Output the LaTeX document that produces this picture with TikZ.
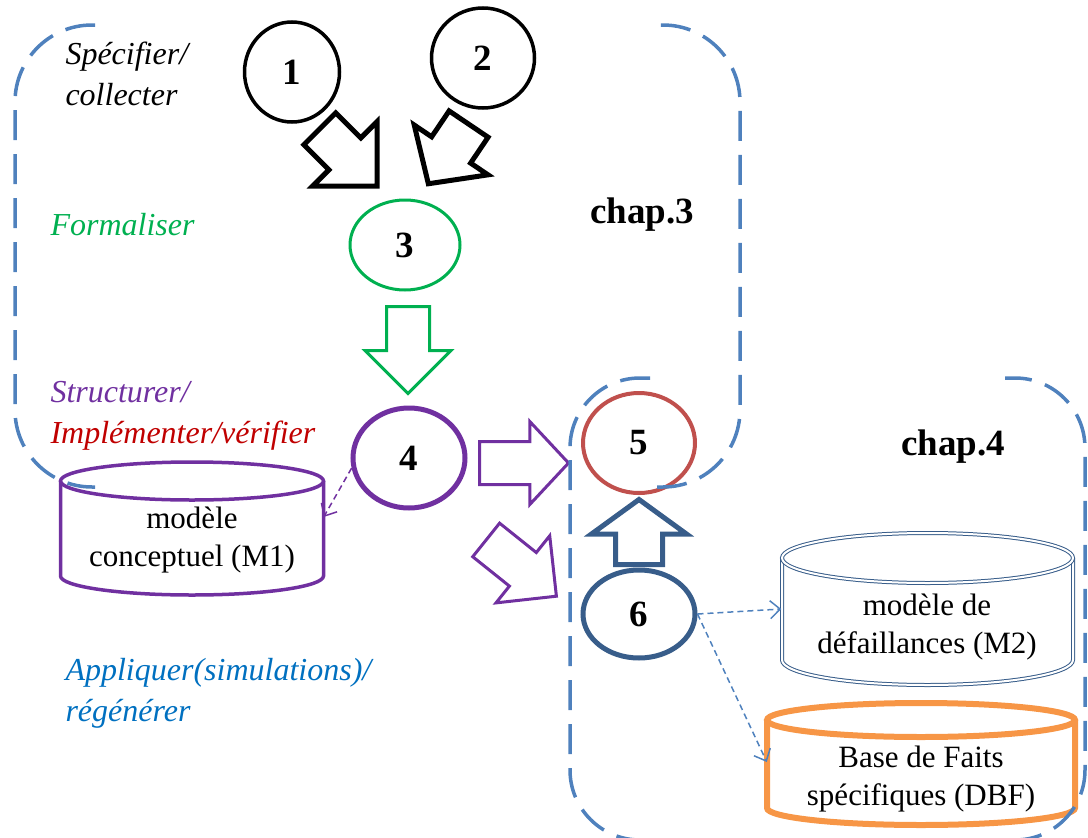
\documentclass[tikz,border=0pt]{standalone}
\usepackage{fontspec}
\setmainfont{Liberation Serif}
\usetikzlibrary{arrows.meta,shapes.geometric,shapes.arrows}
\definecolor{chapblue}{HTML}{4F81BD}
\definecolor{formgreen}{HTML}{00B050}
\definecolor{structpurple}{HTML}{7030A0}
\definecolor{implred}{HTML}{C00000}
\definecolor{simred}{HTML}{C0504D}
\definecolor{regblue}{HTML}{385D8A}
\definecolor{applblue}{HTML}{0070C0}
\definecolor{dbforange}{HTML}{F79646}
\tikzset{
  stage/.style={ellipse, draw, fill=white, line width=3.5pt, inner sep=0pt,
                minimum width=112pt, minimum height=100pt,
                font=\fontsize{37}{40}\selectfont\bfseries},
  bigarrow/.style={single arrow, draw, fill=white, line width=3pt, inner xsep=0pt,
                   inner ysep=20pt, anchor=tail, single arrow tip angle=90},
  storetext/.style={align=center, inner sep=0pt, font=\fontsize{31}{38}\selectfont},
  phase/.style={anchor=west, align=left, font=\fontsize{32}{41}\selectfont\itshape},
  chapter/.style={chapblue, line width=3.5pt, dash pattern=on 30pt off 14pt},
  chaptitle/.style={font=\fontsize{37}{40}\selectfont\bfseries},
  link/.style={-{Straight Barb[length=10pt,width=18pt]}, line width=1.5pt,
               dash pattern=on 6pt off 4pt},
}
% drum: [style]{x centre}{top y}{x radius}{bottom y}{y radius}
\newcommand\drum[6][]{%
  \draw[#1] ({#2-#4},#3) -- ({#2-#4},#5) arc[start angle=180, end angle=360, x radius=#4pt, y radius=#6pt] -- ({#2+#4},#3);
  \draw[#1] (#2,#3) ellipse[x radius=#4pt, y radius=#6pt];}
\begin{document}
\begin{tikzpicture}[x=1pt, y=-1pt]
  \useasboundingbox (0,0) rectangle (1088,838);

  % phase labels
  \node[phase] (spec) at (62,74) {Spécifier/\\collecter};
  \node[phase, text=formgreen] (form) at (47,225) {Formaliser};
  \node[phase] (struct) at (47,416) {\textcolor{structpurple}{Structurer/}\\\textcolor{implred}{Implémenter/vérifier}};
  \node[phase, text=applblue] (appl) at (62,693) {Appliquer(simulations)/\\régénérer};

  % data stores
  \drum[structpurple, line width=3.5pt]{192}{481}{131.5}{576}{19}
  \node[storetext, minimum width=263pt] (m1) at (192,540) {modèle\\conceptuel (M1)};
  \drum[regblue, line width=1pt, double=white, double distance=2pt]{927.5}{558}{145.5}{660}{25}
  \node[storetext, minimum width=291pt] (m2) at (927,627) {modèle de\\défaillances (M2)};
  \drum[dbforange, line width=6pt]{921}{720}{154}{808}{17}
  \node[storetext, minimum width=308pt] (dbf) at (921,779) {Base de Faits\\spécifiques (DBF)};

  % stages
  \node[stage, minimum width=95pt] (c1) at (292,72) {1};
  \node[stage, minimum width=103pt] (c2) at (483,58) {2};
  \node[stage, draw=formgreen, line width=3pt, minimum width=110pt, minimum height=90pt] (c3) at (405,245) {3};
  \node[stage, draw=structpurple, line width=5pt] (c4) at (409,458) {4};
  \node[stage, draw=simred, line width=4pt] (c5) at (639,443) {5};
  \node[stage, draw=regblue, line width=5pt, minimum height=88pt] (c6) at (639,614) {6};

  % block arrows
  \node[bigarrow, line width=5pt, rotate=-45, minimum height=81pt, single arrow head extend=23pt] (a13) at (318,127) {};
  \node[bigarrow, line width=5pt, rotate=-124, minimum height=72pt, inner ysep=21pt, single arrow head extend=21pt, single arrow tip angle=95] (a23) at (470,122) {};
  \node[bigarrow, draw=formgreen, rotate=-90, minimum height=87pt, single arrow head extend=21.5pt] (a34) at (408,305) {};
  \node[bigarrow, draw=structpurple, minimum height=89pt, single arrow head extend=20pt, single arrow tip angle=94] (a45) at (478,463) {};
  \node[bigarrow, draw=structpurple, rotate=-38.7, minimum height=90pt, single arrow head extend=21.5pt] (a4x) at (485,539) {};
  \node[bigarrow, draw=regblue, line width=5pt, rotate=90, minimum height=65pt, inner ysep=21pt, single arrow head extend=24pt, single arrow tip angle=108] (a65) at (639,567) {};

  % dashed links
  \draw[link, structpurple] (c4.190) -- ([yshift=23pt]m1.east);
  \draw[link, chapblue] (c6.east) -- ([yshift=18pt]m2.west);
  \draw[link, chapblue] (c6.east) -- ([yshift=17pt]dbf.west);

  % chapter frames
  \draw[chapter, rounded corners=77pt] (95,25) -- (15,25) -- (15,487) -- (95,487);
  \draw[chapter, rounded corners=77pt] (657,487) -- (740,487) -- (740,25) -- (655,25);
  \draw[chapter, rounded corners=70pt] (650,378) -- (570,378) -- (570,840) -- (1085,840) -- (1085,378) -- (1005,378);
  \node[chaptitle] (ch3) at (642,215) {chap.3};
  \node[chaptitle] (ch4) at (953,447) {chap.4};
\end{tikzpicture}
\end{document}
